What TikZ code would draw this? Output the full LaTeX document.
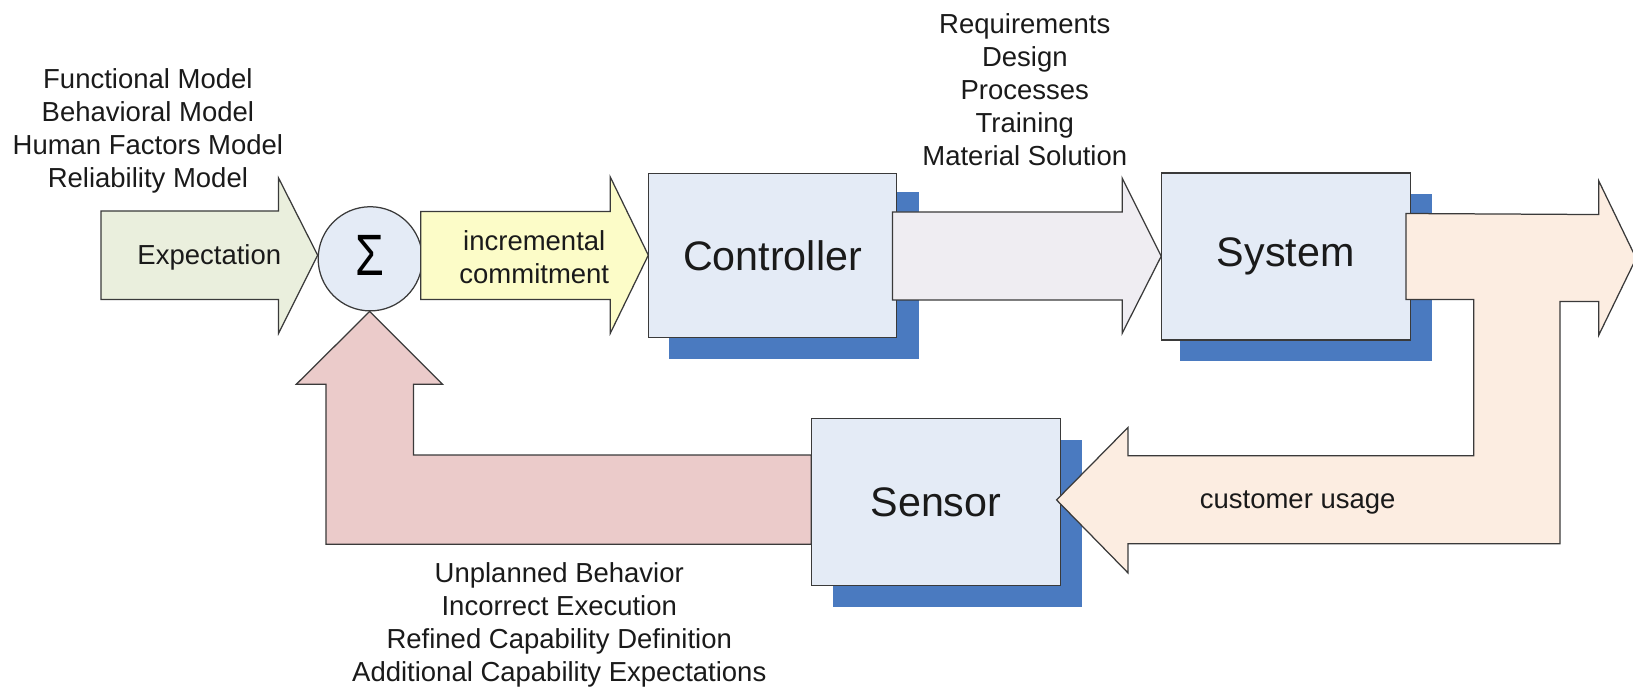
\documentclass[tikz,border=0pt]{standalone}
\usepackage{fontspec}
\setmainfont{Liberation Sans}
\definecolor{linec}{HTML}{3A3A3A}
\definecolor{textc}{HTML}{1A1A1A}
\definecolor{boxfill}{HTML}{E4EBF6}
\definecolor{shadowc}{HTML}{4A7AC0}
\definecolor{expfill}{HTML}{EAEFDD}
\definecolor{incfill}{HTML}{FCFCC8}
\definecolor{lavfill}{HTML}{EFEDF2}
\definecolor{peachfill}{HTML}{FCEDE1}
\definecolor{pinkfill}{HTML}{EBCBCA}
\begin{document}
\begin{tikzpicture}[x=0.5pt,y=-0.5pt,
  blockbox/.style={draw=linec, fill=boxfill, line width=0.6pt, inner sep=0pt,
    text=textc, font=\fontsize{19.8}{24}\selectfont},
  shadowbox/.style={fill=shadowc, draw=none},
  blockarrow/.style={draw=linec, line width=0.6pt, line join=miter},
  lbl/.style={font=\fontsize{13.2}{15.8}\selectfont, align=center, text=textc, inner sep=0pt}]
\useasboundingbox (0,0) rectangle (1568,659);

% shadows
\fill[shadowbox] (642,184) rectangle (882,345);
\fill[shadowbox] (1133,186) rectangle (1375,347);
\fill[shadowbox] (800,422) rectangle (1039,583);

% summing junction
\node[circle, draw=linec, fill=boxfill, line width=0.6pt, minimum size=50pt, inner sep=0pt,
  text=black, font=\fontsize{28}{30}\selectfont] (sum) at (355.5,248.5) {\raisebox{3pt}{\scalebox{0.8}[1]{Σ}}};

% expectation arrow
\draw[blockarrow, fill=expfill] (97,202.5) -- (267.5,202.5) -- (267.5,171) -- (305,245)
  -- (267.5,320) -- (267.5,287.5) -- (97,287.5) -- cycle;
\node[lbl] (exp) at (201,247) {Expectation};

% incremental commitment arrow
\draw[blockarrow, fill=incfill] (404,203) -- (586,203) -- (586,170) -- (622.5,245)
  -- (586,320) -- (586,287.5) -- (404,287.5) -- cycle;
\node[lbl] (inc) at (513,247) {incremental\\commitment};

% pink feedback arrow
\draw[blockarrow, fill=pinkfill] (355,299) -- (425,369) -- (397,369) -- (397,437)
  -- (779,437) -- (779,522.5) -- (313,522.5) -- (313,369) -- (284.5,369) -- cycle;

% boxes
\node[blockbox, minimum width=119.25pt, minimum height=78.8pt] (ctrl) at (741.75,245.2) {Controller};
\node[blockbox, minimum width=119.5pt, minimum height=80.25pt] (sys) at (1234.5,246.25) {System};
\node[blockbox, minimum width=119.7pt, minimum height=80pt] (sens) at (898.7,482) {Sensor};

% controller -> system arrow
\draw[blockarrow, fill=lavfill] (857,203.5) -- (1077.5,203.5) -- (1077.5,171) -- (1115,246)
  -- (1077.5,320) -- (1077.5,288) -- (857,288) -- cycle;

% peach output / customer usage arrow
\draw[blockarrow, fill=peachfill] (1350,205) -- (1535,206) -- (1535,173.5) -- (1571,248)
  -- (1535,322) -- (1535,289.5) -- (1498,289.5) -- (1498,522) -- (1083,522) -- (1083,550)
  -- (1014.5,480) -- (1083,410.5) -- (1083,437.5) -- (1415,437.5) -- (1415,287.5)
  -- (1350,287.5) -- cycle;
\node[lbl] (cust) at (1246,482) {customer usage};

% text blocks
\node[lbl] (models) at (142,126) {Functional Model\\Behavioral Model\\Human Factors Model\\Reliability Model};
\node[lbl] (reqs) at (984,86) {Requirements\\Design\\Processes\\Training\\Material Solution};
\node[lbl] (fb) at (537,600) {Unplanned Behavior\\Incorrect Execution\\Refined Capability Definition\\Additional Capability Expectations};
\end{tikzpicture}
\end{document}
